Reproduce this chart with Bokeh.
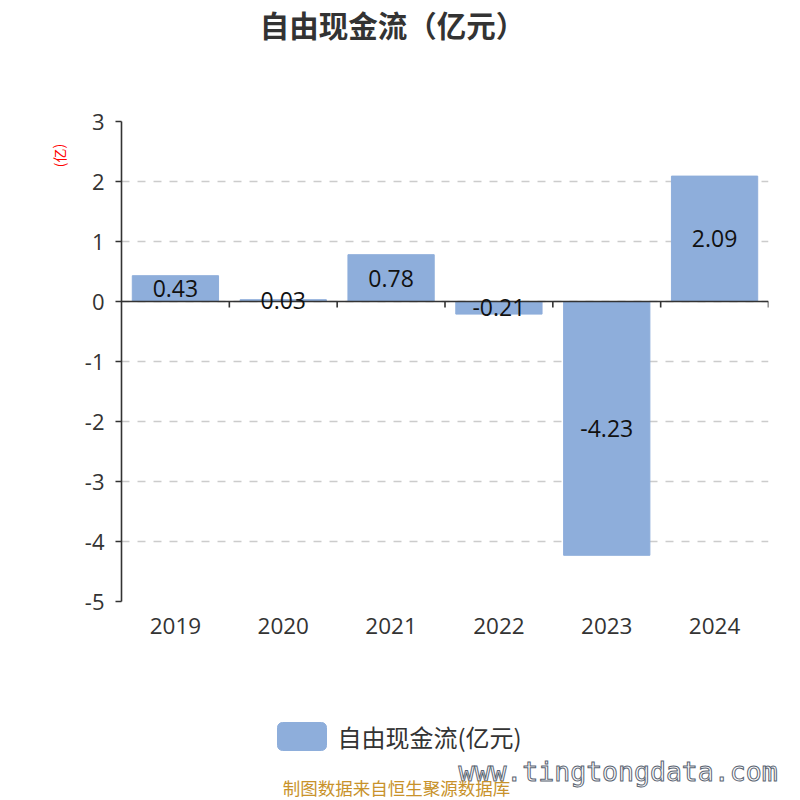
from bokeh.plotting import figure
from bokeh.models import ColumnDataSource, FixedTicker, Range1d
from bokeh.core.properties import value
from bokeh.embed import file_html
from bokeh.resources import INLINE

# ---- data ----
years = ["2019", "2020", "2021", "2022", "2023", "2024"]
values = [0.43, 0.03, 0.78, -0.21, -4.23, 2.09]
y_ticks = [-5, -4, -3, -2, -1, 0, 1, 2, 3]
title_text = "自由现金流（亿元）"
series_name = "自由现金流(亿元)"
unit_text = "(亿)"
footer_text = "制图数据来自恒生聚源数据库"
watermark_text = "www.tingtongdata.com"

FONT = "Noto Sans CJK SC"
NUM_FONT = "Open Sans"
BAR_COLOR = "#8eaedb"
TEXT_COLOR = "#333333"

# ---- canvas / frame geometry (pixels) ----
W, H = 792, 800
ML, MR, MT, MB = 121, 24, 121, 199

n = len(years)
xc = [i + 0.5 for i in range(n)]
xr = Range1d(0, n)
yr = Range1d(min(y_ticks), max(y_ticks))

FL, FR, FT, FB = ML, W - MR, MT, H - MB


def px_x(px):
    """canvas pixel column -> x data value (for texts outside the frame)"""
    return xr.start + (px - FL) * (xr.end - xr.start) / (FR - FL)


def px_y(py):
    """canvas pixel row -> y data value (for texts outside the frame)"""
    return yr.end - (py - FT) * (yr.end - yr.start) / (FB - FT)


src = ColumnDataSource(dict(
    xc=xc,
    v=values,
    mid=[v / 2 for v in values],
    lbl=["%.2f" % v for v in values],
))

p = figure(width=W, height=H, x_range=xr, y_range=yr,
           output_backend="svg", toolbar_location=None, title=None,
           min_border_left=ML, min_border_right=MR,
           min_border_top=MT, min_border_bottom=MB)
p.outline_line_color = None
p.background_fill_color = "white"
p.border_fill_color = "white"

# grid
p.xgrid.grid_line_color = None
p.ygrid.ticker = FixedTicker(ticks=y_ticks)
p.ygrid.grid_line_color = "#cccccc"
p.ygrid.grid_line_dash = "8 8"
p.ygrid.grid_line_width = 1.6

# y axis
p.yaxis.ticker = FixedTicker(ticks=y_ticks)
p.yaxis.major_label_overrides = {t: str(t) for t in y_ticks}
p.yaxis.axis_line_color = TEXT_COLOR
p.yaxis.axis_line_width = 1.6
p.yaxis.major_tick_line_color = TEXT_COLOR
p.yaxis.major_tick_line_width = 1.6
p.yaxis.major_tick_in = 0
p.yaxis.major_tick_out = 6
p.yaxis.minor_tick_line_color = None
p.yaxis.major_label_text_font = NUM_FONT
p.yaxis.major_label_text_font_size = "22px"
p.yaxis.major_label_text_color = TEXT_COLOR
p.yaxis.major_label_standoff = 11

# x axis (labels only)
p.xaxis.ticker = FixedTicker(ticks=xc)
p.xaxis.major_label_overrides = {x: y for x, y in zip(xc, years)}
p.xaxis.axis_line_color = None
p.xaxis.major_tick_line_color = None
p.xaxis.minor_tick_line_color = None
p.xaxis.major_label_text_font = NUM_FONT
p.xaxis.major_label_text_font_size = "22.5px"
p.xaxis.major_label_text_color = TEXT_COLOR
p.xaxis.major_label_standoff = 10

# bars
bars = p.vbar(x="xc", top="v", bottom=0, width=0.8, source=src,
              fill_color=BAR_COLOR, line_color=BAR_COLOR)

# zero line with category-boundary ticks
p.segment(x0=[0], y0=[0], x1=[n], y1=[0], line_color=TEXT_COLOR, line_width=1.6)
bounds = list(range(1, n + 1))
p.segment(x0=bounds, y0=[0] * n, x1=bounds, y1=[-0.1] * n,
          line_color=TEXT_COLOR, line_width=1.6)

# value labels
p.text(x="xc", y="mid", text="lbl", source=src, text_align="center",
       text_baseline="middle", text_font=value(NUM_FONT), text_font_size="23px",
       text_color="#111111")

# ---- texts outside the frame (overlay level so they are not clipped) ----
# title
p.text(x=[px_x(392)], y=[px_y(23)], text=[title_text], level="overlay",
       text_align="center", text_baseline="middle", text_font=value(FONT),
       text_font_size="29.5px", text_font_style="bold", text_color=TEXT_COLOR)

# unit label
p.text(x=[px_x(58)], y=[px_y(155)], text=[unit_text], level="overlay",
       angle=1.5708, text_align="center", text_baseline="middle",
       text_font=value(FONT), text_font_size="14px", text_color="red")

# legend
p.quad(left=[px_x(277)], right=[px_x(326)], top=[px_y(722)], bottom=[px_y(750)],
       level="overlay", fill_color=BAR_COLOR, line_color=BAR_COLOR,
       border_radius=5)
p.text(x=[px_x(337)], y=[px_y(736)], text=[series_name], level="overlay",
       text_align="left", text_baseline="middle", text_font=value(FONT),
       text_font_size="24px", text_color=TEXT_COLOR)

# watermark
p.text(x=[px_x(458)], y=[px_y(771)], text=[watermark_text], level="overlay",
       text_align="left", text_baseline="middle",
       text_font=value("DejaVu Sans Mono"), text_font_size="26.5px",
       text_color="white", text_outline_color="#5a6472")

# footer
p.text(x=[px_x(396)], y=[px_y(787)], text=[footer_text], level="overlay",
       text_align="center", text_baseline="middle", text_font=value(FONT),
       text_font_size="17.5px", text_color="#c8922b")

open("out.html", "w").write(file_html(p, INLINE))
